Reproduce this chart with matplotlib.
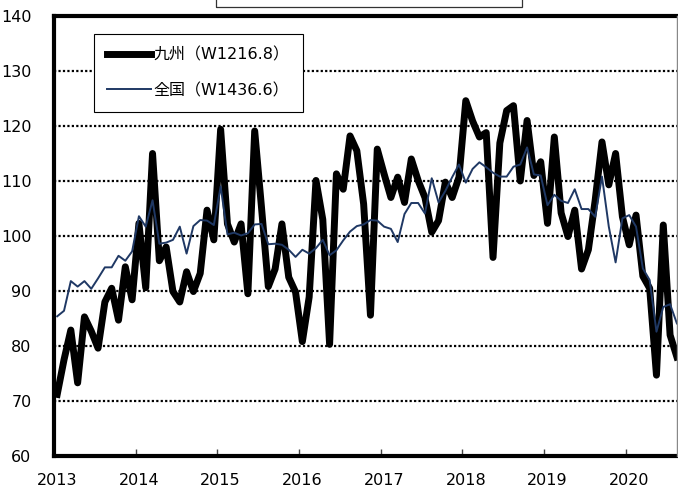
import matplotlib.pyplot as plt
from matplotlib.patches import Rectangle
from matplotlib.lines import Line2D

# Daten (monatlich, Jan 2013 - Aug 2020)
jahre = ['2013', '2014', '2015', '2016', '2017', '2018', '2019', '2020']

kyushu = [
    71.2, 77.5, 82.9, 73.3, 85.3, 82.7, 79.6, 88.0, 90.5, 84.7, 94.4, 88.4,
    102.3, 90.6, 115.0, 95.5, 98.0, 89.9, 88.0, 93.5, 89.9, 93.2, 104.7, 99.3,
    119.4, 102.2, 98.9, 102.2, 89.5, 119.1, 105.2, 90.8, 94.0, 102.2, 92.5, 89.8,
    80.8, 88.9, 110.1, 103.0, 80.3, 111.3, 108.5, 118.2, 115.5, 105.8, 85.6, 115.8,
    111.3, 107.0, 110.7, 106.1, 114.0, 110.1, 107.0, 100.7, 102.8, 109.8, 107.0, 110.7,
    124.6, 120.9, 118.0, 118.8, 96.1, 116.9, 122.8, 123.7, 110.0, 121.0, 111.0, 113.5,
    102.3, 118.0, 104.2, 99.9, 104.7, 94.0, 97.5, 106.5, 117.1, 109.3, 115.0, 103.5,
    98.4, 103.8, 92.7, 90.5, 74.7, 102.0, 82.0, 78.0,
]

zenkoku = [
    85.4, 86.4, 91.8, 90.8, 91.8, 90.4, 92.3, 94.3, 94.3, 96.4, 95.5, 97.2,
    103.6, 101.7, 106.5, 98.6, 98.8, 99.3, 101.7, 96.8, 101.8, 102.9, 102.8, 102.0,
    109.0, 100.3, 100.6, 100.1, 100.5, 102.1, 102.2, 98.5, 98.6, 98.4, 97.5, 96.2,
    97.5, 96.8, 97.8, 99.3, 96.5, 97.4, 99.2, 100.8, 101.8, 102.1, 102.9, 102.8,
    101.7, 101.3, 98.9, 104.0, 106.0, 106.0, 104.1, 110.5, 106.1, 108.2, 110.7, 113.0,
    109.7, 112.2, 113.4, 112.5, 111.5, 110.8, 110.8, 112.6, 113.0, 116.1, 111.2, 111.0,
    105.6, 107.5, 106.4, 106.0, 108.5, 104.9, 104.9, 103.5, 110.8, 101.7, 95.2, 103.2,
    103.8, 101.7, 94.1, 92.0, 82.6, 87.1, 87.6, 84.1,
]

label_kyushu = '九州（W1216.8）'
label_zenkoku = '全国（W1436.6）'

# Monate in der Mitte der Kategorie
x = [i + 0.5 for i in range(len(kyushu))]

fig = plt.figure(figsize=(6.78, 4.91), dpi=100)
ax = fig.add_axes([53.8 / 678, 35 / 491, 626.5 / 678, 440 / 491])

# Gitterlinien gepunktet
for v in range(70, 140, 10):
    ax.axhline(v, color='black', lw=1.6, linestyle=(0, (1, 1)), zorder=1)

ax.plot(x, kyushu, color='black', lw=5, solid_joinstyle='round', label=label_kyushu, zorder=3)
ax.plot(x, zenkoku, color='#1f3864', lw=1.4, label=label_zenkoku, zorder=4)

ax.set_xlim(0, len(kyushu))
ax.set_ylim(60, 140)
ax.set_yticks(range(60, 141, 10))

# Jahresmarken unten, Beschriftung leicht versetzt
ax.set_xticks([12 * k for k in range(len(jahre))])
ax.set_xticklabels([])
ax.set_xticks([12 * k + 0.5 for k in range(len(jahre))], minor=True)
ax.set_xticklabels(jahre, minor=True, fontsize=11.5)
ax.tick_params(axis='x', which='major', direction='in', length=5, width=1, color='#444444')
ax.tick_params(axis='x', which='minor', length=0, pad=12)
ax.tick_params(axis='y', length=0, pad=16, labelsize=11.5)

for s in ['left', 'bottom', 'top']:
    ax.spines[s].set_linewidth(3)
ax.spines['right'].set_visible(False)

leg = ax.legend(loc='upper left', bbox_to_anchor=(0.064, 0.959), borderaxespad=0,
                prop={'family': ['DejaVu Sans', 'Noto Sans CJK JP'], 'size': 11.5},
                fancybox=False, edgecolor='black', handlelength=2.7, handletextpad=0.15,
                borderpad=0.85, labelspacing=1.25, framealpha=1)
leg.get_frame().set_linewidth(0.8)
leg.set_zorder(5)

# angeschnittener Titelrahmen oben und Rand rechts
fig.patches.append(Rectangle((216 / 678, (491 - 6.5) / 491), 306 / 678, 0.05,
                             transform=fig.transFigure, fill=False, edgecolor='#333333', lw=0.9))
fig.lines.append(Line2D([677 / 678, 677 / 678], [35 / 491, 475 / 491],
                        transform=fig.transFigure, color='#888888', lw=1))

plt.savefig('out.png', dpi=100)
